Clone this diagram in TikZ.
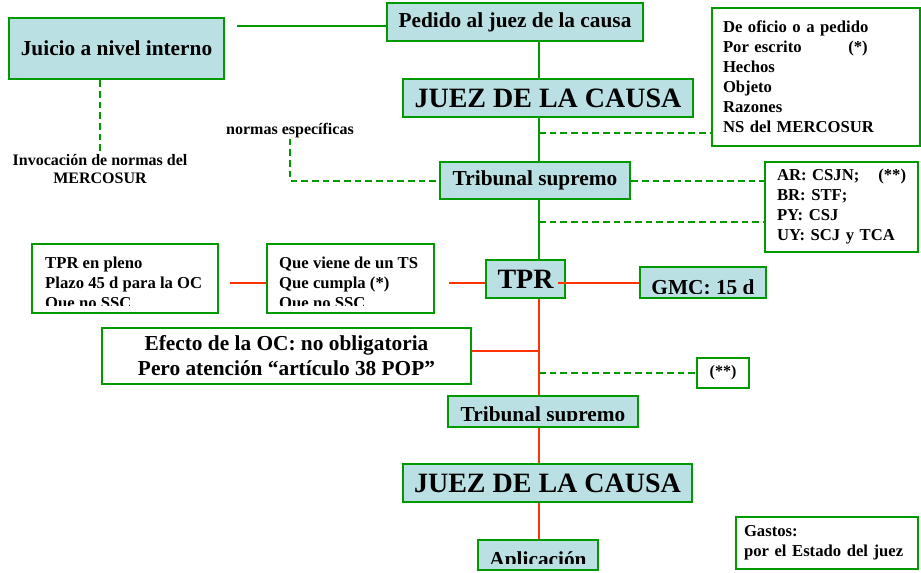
\documentclass[tikz,border=0pt]{standalone}
\usepackage{fontspec}
\setmainfont{Liberation Serif}
\definecolor{boxgreen}{RGB}{0,153,0}
\definecolor{boxteal}{RGB}{187,224,227}
\definecolor{linered}{RGB}{255,51,0}

\begin{document}
\begin{tikzpicture}[x=0.75pt,y=-0.75pt,
  tealbox/.style={draw=boxgreen,fill=boxteal,line width=1.8pt,inner sep=0pt},
  whitebox/.style={draw=boxgreen,fill=white,line width=1.8pt,inner sep=0pt},
  greenline/.style={draw=boxgreen,line width=1.5pt},
  dashline/.style={draw=boxgreen,line width=1.5pt,dash pattern=on 5pt off 3pt},
  redline/.style={draw=linered,line width=1.5pt},
  bigtxt/.style={font=\fontsize{21}{24}\selectfont\bfseries},
  midtxt/.style={font=\fontsize{16}{19}\selectfont\bfseries},
  smalltxt/.style={font=\fontsize{12.5}{15}\selectfont\bfseries},
  tinytxt/.style={font=\fontsize{12}{13.5}\selectfont\bfseries}]
\useasboundingbox (0,0) rectangle (921,572);
\coordinate (spine) at (539,0);

% Upper chain
\node[tealbox,midtxt,minimum width=161.25pt,minimum height=45.75pt] (juicio) at (116.5,48.5) {Juicio a nivel interno};
\node[tealbox,midtxt,minimum width=192pt,minimum height=28.5pt] (pedido) at (515,22) {Pedido al juez de la causa};
\node[tealbox,bigtxt,minimum width=217.5pt,minimum height=28.5pt] (juez1) at (548,98) {JUEZ DE LA CAUSA};
\node[tealbox,midtxt,minimum width=142.5pt,minimum height=27.75pt] (tribunal1) at (535,180.5) {Tribunal supremo};

% Side notes
\node[whitebox,smalltxt,minimum height=103.5pt,inner xsep=8.25pt,text width=139.5pt,align=left] (oficio) at (816,77)
  {De oficio o a pedido\\ \makebox[94pt][l]{Por escrito}(*)\\ Hechos\\ Objeto\\ Razones\\ NS del MERCOSUR};
\node[whitebox,smalltxt,minimum height=67.5pt,inner xsep=9pt,text width=96.75pt,align=left] (ar) at (841.5,207)
  {\makebox[76pt][l]{AR: CSJN;}(**)\\ BR: STF;\\ PY: CSJ\\ UY: SCJ y TCA};
\node[tinytxt,inner sep=0pt] (normas) at (290,131) {normas específicas};
\node[tinytxt,inner sep=1pt,align=center] (invoc) at (100,169) {Invocación de normas del\\ MERCOSUR};

% TPR row
\node[tealbox,bigtxt,minimum width=59.25pt,minimum height=28.5pt] (tpr) at (525.5,279) {TPR};
\node[tealbox,minimum width=94.5pt,minimum height=23.25pt,
  path picture={\clip (path picture bounding box.north west) rectangle ([yshift=3.75pt]path picture bounding box.south east);
    \node[draw=none,fill=none,inner sep=0pt,minimum size=0pt,anchor=base,midtxt] at ([yshift=2.6pt]path picture bounding box.south) {GMC: 15 d};}]
  (gmc) at (703,282.5) {};
\node[whitebox,minimum width=125.25pt,minimum height=51.75pt,
  path picture={\clip (path picture bounding box.north west) rectangle ([yshift=6pt]path picture bounding box.south east);
    \node[draw=none,fill=none,inner sep=0pt,minimum size=0pt,anchor=north west,align=left,smalltxt] at ([xshift=8.25pt,yshift=-9pt]path picture bounding box.north west) {Que viene de un TS\\ Que cumpla (*)\\ Que no SSC};}]
  (quev) at (350.5,278.5) {};
\node[whitebox,minimum width=139.5pt,minimum height=51.75pt,
  path picture={\clip (path picture bounding box.north west) rectangle ([yshift=6pt]path picture bounding box.south east);
    \node[draw=none,fill=none,inner sep=0pt,minimum size=0pt,anchor=north west,align=left,smalltxt] at ([xshift=9pt,yshift=-9pt]path picture bounding box.north west) {TPR en pleno\\ Plazo 45 d para la OC\\ Que no SSC};}]
  (pleno) at (125,278.5) {};

% Lower chain
\node[whitebox,minimum width=276.75pt,minimum height=42pt,align=center,font=\fontsize{16}{18.75}\selectfont\bfseries] (efecto) at (286.5,356)
  {Efecto de la OC: no obligatoria\\ Pero atención “artículo 38 POP”};
\node[whitebox,tinytxt,minimum width=39pt,minimum height=22.5pt] (star) at (723,373) {(**)};
\node[tealbox,minimum width=142.5pt,minimum height=23.25pt,
  path picture={\clip (path picture bounding box.north west) rectangle ([yshift=5.25pt]path picture bounding box.south east);
    \node[draw=none,fill=none,inner sep=0pt,minimum size=0pt,anchor=base,midtxt] at ([yshift=4.1pt]path picture bounding box.south) {Tribunal supremo};}]
  (tribunal2) at (543,411.5) {};
\node[tealbox,bigtxt,minimum width=216.75pt,minimum height=28.5pt] (juez2) at (547.5,483) {JUEZ DE LA CAUSA};
\node[tealbox,minimum width=90pt,minimum height=22.5pt,
  path picture={\clip (path picture bounding box.north west) rectangle ([yshift=5pt]path picture bounding box.south east);
    \node[draw=none,fill=none,inner sep=0pt,minimum size=0pt,anchor=base,midtxt] at ([yshift=3pt]path picture bounding box.south) {Aplicación};}]
  (aplic) at (538,555) {};
\node[whitebox,smalltxt,minimum height=39pt,inner xsep=6pt,text width=124.5pt,align=left] (gastos) at (827,543)
  {Gastos:\\ por el Estado del juez};

% Green connectors
\draw[greenline,shorten >=9pt] ([yshift=-3pt]pedido.west) -- ([yshift=-3pt]pedido.west -| juicio.east);
\draw[greenline] (pedido.south -| spine) -- (juez1.north -| spine);
\draw[greenline] (juez1.south -| spine) -- (tribunal1.north -| spine);
\draw[greenline] (tribunal1.south -| spine) -- (tpr.north -| spine);

% Dashed links
\coordinate (d1) at (539,133);
\coordinate (d2) at (539,222);
\coordinate (d3) at (539,373);
\draw[dashline] (juicio.south -| invoc.north) -- (invoc.north);
\draw[dashline] (normas.south) |- (tribunal1.west);
\draw[dashline] (d1) -- (d1 -| oficio.west);
\draw[dashline] (tribunal1.east) -- (tribunal1.east -| ar.west);
\draw[dashline] (d2) -- (d2 -| ar.west);
\draw[dashline] (d3) -- (star.west);

% Red connectors
\draw[redline,shorten <=8.25pt] ([yshift=-3pt]pleno.east) -- ([yshift=-3pt]pleno.east -| quev.west);
\draw[redline,shorten <=10.5pt] ([yshift=-3pt]quev.east) -- ([yshift=-3pt]quev.east -| tpr.west);
\draw[redline,shorten <=-6pt] ([yshift=-3pt]tpr.east) -- ([yshift=-3pt]tpr.east -| gmc.west);
\draw[redline] ([yshift=3.75pt]efecto.east) -- ([yshift=3.75pt]efecto.east -| spine);
\draw[redline] (tpr.south -| spine) -- (tribunal2.north -| spine);
\draw[redline] (tribunal2.south -| spine) -- (juez2.north -| spine);
\draw[redline] (juez2.south -| spine) -- (aplic.north -| spine);
\end{tikzpicture}
\end{document}
